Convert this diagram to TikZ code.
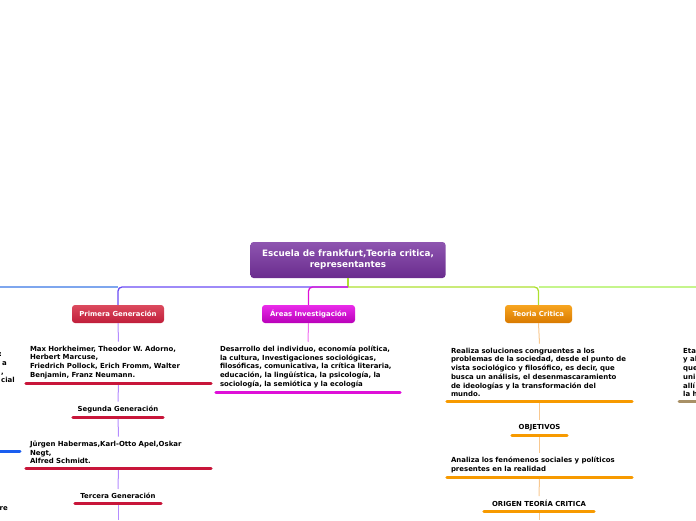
\documentclass[tikz,border=0pt]{standalone}
\usepackage{fontspec}
\setmainfont{DejaVu Sans}
\usetikzlibrary{positioning}

\definecolor{rootA}{HTML}{8E55B0}
\definecolor{rootB}{HTML}{6A2C8E}
\definecolor{redA}{HTML}{DC4A5E}
\definecolor{redB}{HTML}{C01E3A}
\definecolor{redbar}{HTML}{C8163A}
\definecolor{magA}{HTML}{EA2BEA}
\definecolor{magB}{HTML}{B800B8}
\definecolor{magbar}{HTML}{DE10D8}
\definecolor{oraA}{HTML}{F7A520}
\definecolor{oraB}{HTML}{D97A00}
\definecolor{orabar}{HTML}{F79A00}
\definecolor{lilac}{HTML}{B48CFF}
\definecolor{pinkline}{HTML}{F070F0}
\definecolor{peach}{HTML}{F8C890}
\definecolor{violet}{HTML}{6A4CF5}
\definecolor{sky}{HTML}{7EA6EE}
\definecolor{lime}{HTML}{AEE030}
\definecolor{mint}{HTML}{C5F58C}
\definecolor{bluebar}{HTML}{1A5EF0}
\definecolor{tanbar}{HTML}{A89066}

\tikzset{
	topic/.style={rounded corners=3pt, minimum height=18pt, inner xsep=6pt,
		text=white, font=\bfseries\fontsize{6.9}{8}\selectfont},
	txt/.style={align=left, inner xsep=4pt, inner ysep=4pt,
		font=\bfseries\fontsize{6.95}{8.7}\selectfont},
	sub/.style={inner ysep=4pt, font=\bfseries\fontsize{6.9}{8}\selectfont},
	bar/.style={line width=3pt, line cap=round},
	link/.style={line width=1pt}
}

\begin{document}
\begin{tikzpicture}[x=1pt, y=-1pt]
	\useasboundingbox (0,0) rectangle (696,520);
	\clip (0,0) rectangle (696,520);

	\node[topic, top color=rootA, bottom color=rootB, minimum width=195pt, minimum height=36pt,
		align=center, font=\bfseries\fontsize{8.8}{11}\selectfont] (root) at (348,260)
		{Escuela de frankfurt,Teoria critica,\\representantes};

	\node[topic, top color=redA, bottom color=redB, minimum width=92pt] (gen1) at (118,314) {Primera Generación};
	\node[topic, top color=magA, bottom color=magB, minimum width=93pt] (areas) at (308.5,314) {Áreas Investigación};
	\node[topic, top color=oraA, bottom color=oraB, minimum width=67pt] (teo) at (538.5,314) {Teoria Critica};

	\coordinate (hub) at (348,287);
	\coordinate (edgeL) at (0,287);
	\coordinate (edgeR) at (696,287);
	\draw[lime, line width=1.3pt] (root.south) -- (hub);
	\draw[violet, line width=1.3pt, rounded corners=4pt] (hub) -| (gen1.north);
	\draw[magbar, line width=1.3pt, rounded corners=4pt] (hub) -| (areas.north);
	\draw[lime, line width=1.3pt, rounded corners=4pt] (hub) -| (teo.north);
	\draw[sky, line width=1.3pt] (gen1.north |- hub) -- (edgeL);
	\draw[mint, line width=1.3pt] (teo.north |- hub) -- (edgeR);

	% Primera Generacion
	\node[txt, text width=177pt, anchor=south] (max) at (118.5,383)
		{Max Horkheimer, Theodor W. Adorno,\\Herbert Marcuse,\\Friedrich Pollock, Erich Fromm, Walter\\Benjamin, Franz Neumann.};
	\node[sub, minimum width=90pt, anchor=south] (gen2) at (118,417) {Segunda Generación};
	\node[txt, text width=177pt, anchor=south] (jur) at (118.5,468)
		{Jürgen Habermas,Karl-Otto Apel,Oskar\\Negt,\\Alfred Schmidt.};
	\node[sub, minimum width=86pt, anchor=south] (gen3) at (118,503) {Tercera Generación};
	\coordinate (end1) at (118,520);

	\draw[lilac, link] (gen1.south) -- (max.north);
	\draw[lilac, link] (max.south) -- (gen2.north);
	\draw[lilac, link] (gen2.south) -- (jur.north);
	\draw[lilac, link] (jur.south) -- (gen3.north);
	\draw[lilac, link] (gen3.south) -- (end1);
	\draw[redbar, bar] (max.south west) -- (max.south east);
	\draw[redbar, bar] (gen2.south west) -- (gen2.south east);
	\draw[redbar, bar] (jur.south west) -- (jur.south east);
	\draw[redbar, bar] (gen3.south west) -- (gen3.south east);

	% Areas Investigacion
	\node[txt, text width=176pt, anchor=south] (des) at (308,392)
		{Desarrollo del individuo, economía política,\\la cultura, Investigaciones sociológicas,\\filosóficas, comunicativa, la crítica literaria,\\educación, la lingüística, la psicología, la\\sociología, la semiótica y la ecología};
	\draw[pinkline, link] (areas.south) -- (des.north);
	\draw[magbar, bar] (des.south west) -- (des.south east);

	% Teoria Critica
	\node[txt, text width=177pt, anchor=south] (rea) at (539.5,401)
		{Realiza soluciones congruentes a los\\problemas de la sociedad, desde el punto de\\vista sociológico y filosófico, es decir, que\\busca un análisis, el desenmascaramiento\\de ideologías y la transformación del\\mundo.};
	\node[sub, minimum width=55pt, anchor=south] (obj) at (539.5,435) {OBJETIVOS};
	\node[txt, text width=177pt, anchor=south] (ana) at (539.5,477)
		{Analiza los fenómenos sociales y políticos\\presentes en la realidad};
	\node[sub, minimum width=110pt, anchor=south] (ori) at (539,511) {ORIGEN TEORÍA CRITICA};
	\coordinate (end3) at (539,520);

	\draw[peach, link] (teo.south) -- (rea.north);
	\draw[peach, link] (rea.south) -- (obj.north);
	\draw[peach, link] (obj.south) -- (ana.north);
	\draw[peach, link] (ana.south) -- (ori.north);
	\draw[peach, link] (ori.south) -- (end3);
	\draw[orabar, bar] (rea.south west) -- (rea.south east);
	\draw[orabar, bar] (obj.south west) -- (obj.south east);
	\draw[orabar, bar] (ana.south west) -- (ana.south east);
	\draw[orabar, bar] (ori.south west) -- (ori.south east);

	% cut-off branches at the edges
	\node[txt, align=right, anchor=south east] (cutL) at (19,387)
		{:\rule{13pt}{0pt}\\a\rule{8pt}{0pt}\\,\rule{11pt}{0pt}\\cial};
	\node[txt, anchor=south east] (cutL2) at (12,515) {re};
	\draw[bluebar, bar] (-5,451) -- (20,451);
	\node[txt, anchor=south west] (cutR) at (679,401)
		{Eta\\y al\\que\\uni\\allí\\la h};
	\coordinate (endR) at (700,401);
	\draw[tanbar, bar] (cutR.south west) -- (endR);
\end{tikzpicture}
\end{document}
